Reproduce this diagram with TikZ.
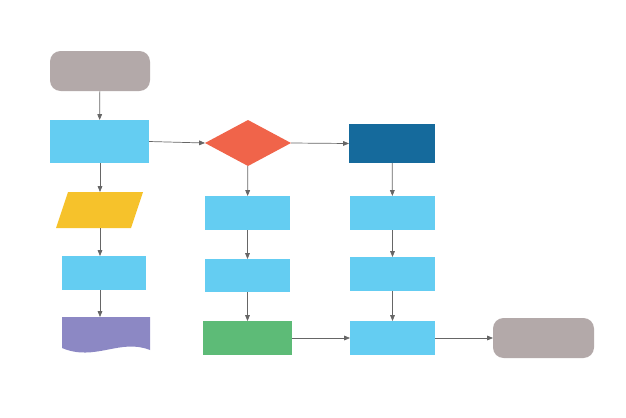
\documentclass[tikz,border=0pt]{standalone}
\usetikzlibrary{arrows.meta,shapes.geometric}
\definecolor{lb}{HTML}{64CDF2}
\definecolor{gr}{HTML}{B3A9A9}
\definecolor{rd}{HTML}{F0644A}
\definecolor{dbc}{RGB}{21,106,156}
\definecolor{yl}{RGB}{246,194,43}
\definecolor{pu}{RGB}{140,136,196}
\definecolor{gn}{RGB}{93,187,119}
\begin{document}
\begin{tikzpicture}[x=0.03cm,y=-0.03cm,
  box/.style={draw=none,inner sep=0,outer sep=0},
  conn/.style={draw=gray!80!black,line width=0.6pt,-{Triangle[length=5pt,width=4pt]}}]
\useasboundingbox (0,0) rectangle (626,417);
\newcommand{\bx}[6]{\node[box,fill=#6,minimum width=#4*0.03cm,minimum height=#5*0.03cm,#1] (#2) at #3 {};}
\bx{rounded corners=9pt}{st}{(100,71)}{100}{40}{gr}
\bx{}{r1}{(99.5,141.5)}{99}{43}{lb}
\node[box,diamond,fill=rd,minimum width=86*0.03cm,minimum height=46*0.03cm,aspect=1.87] (dm) at (248,143) {};
\bx{}{db}{(392,143.5)}{86}{39}{dbc}
\fill[yl] (68,192) -- (143,192) -- (131,228) -- (56,228) -- cycle;
\coordinate (pgt) at (100,192);
\coordinate (pgb) at (100,228);
\bx{}{m1}{(247.5,213)}{85}{34}{lb}
\bx{}{r2}{(392.5,213)}{85}{34}{lb}
\bx{}{l3}{(104,273)}{84}{34}{lb}
\bx{}{m2}{(247.5,275.5)}{85}{33}{lb}
\bx{}{r3}{(392.5,274)}{85}{34}{lb}
\fill[pu] (62,317) -- (150,317) -- (150,350) .. controls (120,338) and (95,362) .. (62,348) -- cycle;
\coordinate (doc) at (100,317);
\bx{}{g1}{(247.5,338)}{89}{34}{gn}
\bx{}{r4}{(392.5,338)}{85}{34}{lb}
\bx{rounded corners=9pt}{en}{(543.5,338)}{101}{40}{gr}
\draw[conn] (st) -- (r1);
\draw[conn] (r1.east) -- (dm.west);
\draw[conn] (dm.east) -- (db.west);
\draw[conn] (r1.south -| pgt) -- (pgt);
\draw[conn] (pgb) -- (l3.north -| pgb);
\draw[conn] (l3.south -| doc) -- (doc);
\draw[conn] (dm) -- (m1);
\draw[conn] (m1) -- (m2);
\draw[conn] (m2) -- (g1);
\draw[conn] (db) -- (r2);
\draw[conn] (r2) -- (r3);
\draw[conn] (r3) -- (r4);
\draw[conn] (g1) -- (r4);
\draw[conn] (r4) -- (en);
\end{tikzpicture}
\end{document}
